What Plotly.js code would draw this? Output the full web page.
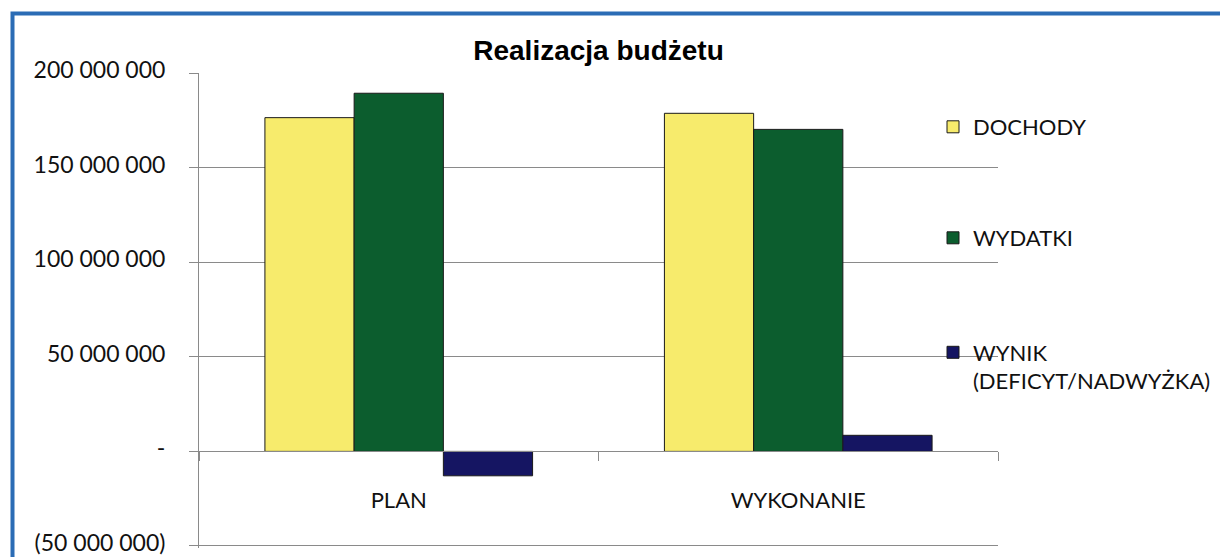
<!DOCTYPE html>
<html>
<head>
<meta charset="utf-8">
<script src="https://cdn.plot.ly/plotly-3.0.1.min.js"></script>
<style>html,body{margin:0;padding:0;background:#fff;}#chart{width:1220px;height:557px;}</style>
</head>
<body>
<div id="chart"></div>
<script>
// Data
const categories = ['PLAN', 'WYKONANIE'];
const seriesNames = ['DOCHODY', 'WYDATKI', 'WYNIK<br>(DEFICYT/NADWYŻKA)'];
const dochody = [176400000, 178700000];
const wydatki = [189300000, 170200000];
const wynik = [-12900000, 8500000];
const yTickVals = [-50000000, 0, 50000000, 100000000, 150000000, 200000000];
const yTickText = ['(50 000 000)', '-', '50 000 000', '100 000 000', '150 000 000', '200 000 000'];
const chartTitle = 'Realizacja budżetu';

const colors = ['#F7EB6C', '#0C5D2E', '#151562'];
const fam = 'Lato, "Open Sans", sans-serif';
const yFont = {family: fam, size: 23, color: '#111'};
const xFont = {family: fam, size: 22, color: '#111'};
const legFont = {family: fam, size: 22, color: '#111'};

function bar(name, values, color, legendId) {
  return {
    type: 'bar', name: name, x: categories, y: values,
    marker: {color: color, line: {color: '#1a1a1a', width: 1}},
    legend: legendId, hoverinfo: 'skip'
  };
}

const traces = [
  bar(seriesNames[0], dochody, colors[0], 'legend'),
  bar(seriesNames[1], wydatki, colors[1], 'legend2'),
  bar(seriesNames[2], wynik, colors[2], 'legend3')
];

// plot area in pixels (bottom extended 2px so the -50M gridline is kept)
const L = 199, R = 998, T = 73, B = 548;
const Y0 = -51060000, Y1 = 200000000;
const px2x = p => (p - L) / (R - L);
const px2y = p => (B - p) / (B - T);

function legendAt(xpx, ypx) {
  return {
    x: px2x(xpx), y: px2y(ypx), xref: 'paper', yref: 'paper',
    xanchor: 'left', yanchor: 'middle', bgcolor: 'rgba(0,0,0,0)',
    borderwidth: 0, font: legFont, valign: 'top', itemclick: false
  };
}

const layout = {
  width: 1220, height: 557,
  margin: {l: L, r: 1220 - R, t: T, b: 557 - B, pad: 0, autoexpand: false},
  paper_bgcolor: '#fff', plot_bgcolor: '#fff',
  barmode: 'group', bargap: 0.33, bargroupgap: 0,
  showlegend: true,
  title: {
    text: chartTitle, x: 0.5, xref: 'paper', xanchor: 'center',
    y: 1 - 50 / 557, yref: 'container', yanchor: 'middle',
    font: {family: '"Liberation Sans", Arial, sans-serif', size: 28, color: '#000', weight: 'bold'}
  },
  xaxis: {
    type: 'category', anchor: 'free', position: -Y0 / (Y1 - Y0),
    showline: true, linecolor: '#8a8a8a', linewidth: 1,
    ticks: 'outside', tickson: 'boundaries', ticklen: 9, tickcolor: '#8a8a8a',
    showgrid: false, zeroline: false, tickfont: xFont,
    ticklabelstandoff: 29, fixedrange: true, automargin: false
  },
  yaxis: {
    range: [Y0, Y1], tickmode: 'array',
    tickvals: yTickVals, ticktext: yTickText,
    showline: true, linecolor: '#8a8a8a', linewidth: 1,
    ticks: 'outside', ticklen: 9, tickcolor: '#8a8a8a',
    showgrid: true, gridcolor: '#8a8a8a', gridwidth: 1, zeroline: false,
    tickfont: yFont, ticklabelstandoff: 19, ticklabelshift: -3, ticklabeloverflow: 'allow',
    fixedrange: true, automargin: false
  },
  legend: legendAt(933, 127),
  legend2: legendAt(933, 238),
  legend3: legendAt(933, 367),
  shapes: [{
    type: 'rect', xref: 'paper', yref: 'paper',
    x0: px2x(12.5), x1: px2x(1300), y0: px2y(640), y1: px2y(13.5),
    line: {color: '#2B6CB5', width: 4}, fillcolor: 'rgba(0,0,0,0)', layer: 'above'
  }]
};

Plotly.newPlot('chart', traces, layout, {displayModeBar: false, staticPlot: true});
</script>
</body>
</html>
